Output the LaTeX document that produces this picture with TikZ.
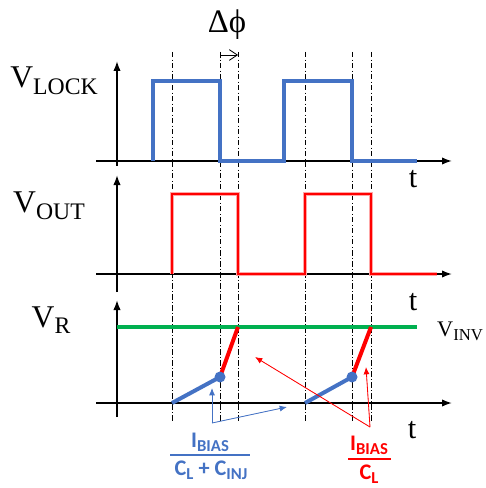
\documentclass[tikz,border=0pt]{standalone}
\usepackage{fontspec}
\setmainfont{Liberation Serif}
\newfontfamily\fracfont{Carlito}
\usetikzlibrary{arrows.meta}
\definecolor{waveBlue}{HTML}{4472C4}
\definecolor{waveRed}{HTML}{FF0000}
\definecolor{waveGreen}{HTML}{00B050}
\newcommand\lowsub[1]{\raisebox{-0.2em}{\scalebox{0.75}{#1}}}
\tikzset{
  wave axis/.style={draw=black, line width=1.3pt, -{Latex[length=3mm,width=2.2mm]}},
  phase mark/.style={draw=black, line width=0.8pt, dash pattern=on 4.5pt off 2pt on 0.9pt off 2pt},
  lock wave/.style={draw=waveBlue, line width=2.6pt},
  out wave/.style={draw=waveRed, line width=2.4pt, preaction={draw=waveRed!35, line width=4pt}},
  ramp slow/.style={draw=waveBlue, line width=3.4pt},
  ramp fast/.style={draw=waveRed, line width=3.4pt},
  inv level/.style={draw=waveGreen, line width=2.6pt},
  note arrow/.style={line width=0.7pt, -{Latex[length=2.2mm,width=1.8mm]}},
  sig label/.style={font=\fontsize{27}{30}\selectfont, inner sep=0pt, anchor=base},
  t label/.style={font=\fontsize{26}{28}\selectfont, inner sep=0pt, anchor=base},
  frac label/.style={font=\fracfont\bfseries\fontsize{19}{21}\selectfont, inner sep=0pt, anchor=base},
  frac bar/.style={line width=1pt}
}

\begin{document}
\begin{tikzpicture}[x=0.03cm, y=-0.03cm]
  \useasboundingbox (0,0) rectangle (485,488);
  % phase marks
  \foreach \px in {172,220,238,305,352,371}
    \draw[phase mark] (\px,52) -- (\px,423);
  \draw[line width=0.7pt, {Bar[width=2mm]}-{Straight Barb[length=2.4mm,width=3.2mm]}] (220,55) -- (238,55);
  \node[sig label, font=\fontsize{28}{30}\selectfont] (dphi) at (227,33) {Δϕ};

  % V_LOCK
  \draw[wave axis] (96,161) -- (452,161);
  \draw[wave axis] (117,166) -- (117,61);
  \draw[lock wave] (153,161) -- (153,81) -- (220,81) -- (220,161) -- (284,161)
    -- (284,81) -- (352,81) -- (352,161) -- (417,161);
  \node[sig label] (vlock) at (54,88) {V\lowsub{LOCK}};
  \node[t label] (t1) at (413,188) {t};

  % V_OUT
  \draw[wave axis] (96,274) -- (452,274);
  \draw[wave axis] (117,292) -- (117,175);
  \draw[out wave] (172,274) -- (172,194) -- (238,194) -- (238,274) -- (305,274)
    -- (305,194) -- (371,194) -- (371,274) -- (437,274);
  \node[sig label] (vout) at (49,213) {V\lowsub{OUT}};
  \node[t label] (t2) at (413,310) {t};

  % V_R
  \draw[wave axis] (96,403) -- (452,403);
  \draw[wave axis] (117,417) -- (117,300);
  \draw[inv level] (117,327) -- (417,327);
  \draw[ramp slow] (172,403) -- (220,377);
  \draw[ramp fast] (220,377) -- (238,327);
  \draw[ramp slow] (305,403) -- (352,377);
  \draw[ramp fast] (352,377) -- (371,327);
  \fill[waveBlue] (220,377) circle[radius=5.5];
  \fill[waveBlue] (352,377) circle[radius=5.5];
  \node[sig label] (vr) at (51,327) {V\lowsub{R}};
  \node[sig label, anchor=base west, font=\fontsize{19}{21}\selectfont] (vinv) at (437,336) {V\lowsub{INV}};
  \node[t label] (t3) at (412,438) {t};

  % slope notes
  \node[frac label, text=waveBlue] (slownum) at (210,447) {I\lowsub{BIAS}};
  \draw[frac bar, waveBlue] (170,455) -- (250,455);
  \node[frac label, text=waveBlue] (slowden) at (211,475) {C\lowsub{L} + C\lowsub{INJ}};
  \node[frac label, text=waveRed] (fastnum) at (369,450) {I\lowsub{BIAS}};
  \draw[frac bar, waveRed] (348,459) -- (391,459);
  \node[frac label, text=waveRed] (fastden) at (369,479) {C\lowsub{L}};
  \coordinate (slowknee) at (212,423);
  \coordinate (slowtipA) at (212,388);
  \coordinate (slowtipB) at (287,407);
  \coordinate (fastknee) at (370,427);
  \coordinate (fasttipA) at (255,357);
  \coordinate (fasttipB) at (366,367);
  \draw[note arrow, draw=waveBlue, fill=waveBlue] (slowknee) -- (slowtipA);
  \draw[note arrow, draw=waveBlue, fill=waveBlue] (slowknee) -- (slowtipB);
  \draw[note arrow, draw=waveRed, fill=waveRed] (fastknee) -- (fasttipA);
  \draw[note arrow, draw=waveRed, fill=waveRed] (fastknee) -- (fasttipB);
\end{tikzpicture}
\end{document}
